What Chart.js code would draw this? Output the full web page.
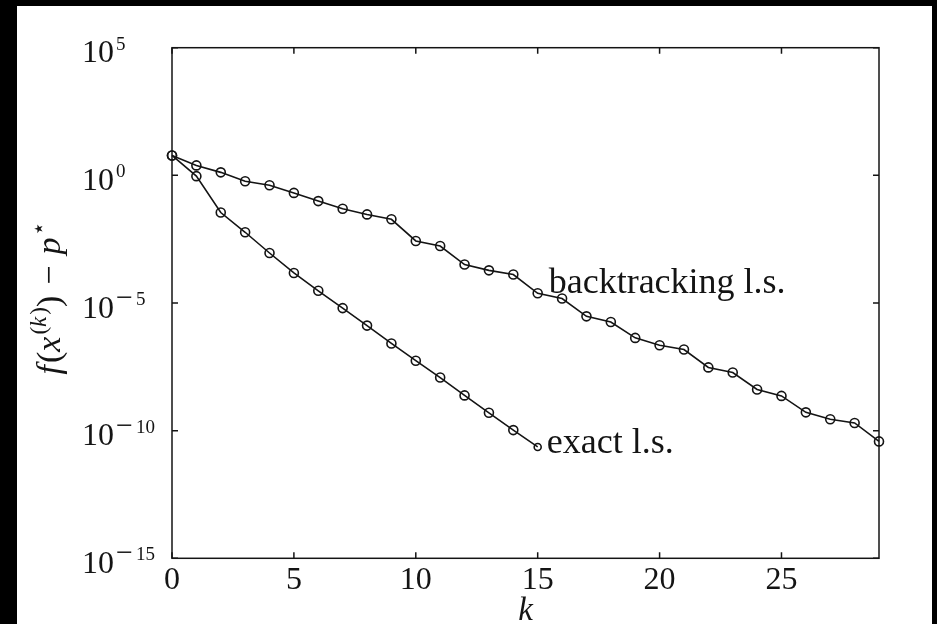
<!DOCTYPE html>
<html>
<head>
<meta charset="utf-8">
<script src="https://cdn.jsdelivr.net/npm/chart.js@4.4.0/dist/chart.umd.min.js"></script>
<style>
    html, body { margin: 0; padding: 0; background: #000; }
    #page { position: absolute; left: 17px; top: 6px; width: 915px; height: 618px; background: #fff; }
    canvas { display: block; }
</style>
</head>
<body>
<div id="page"><canvas id="plot" width="915" height="618"></canvas></div>
<script>
// iteration numbers
const kBacktracking = [0, 1, 2, 3, 4, 5, 6, 7, 8, 9, 10, 11, 12, 13, 14, 15, 16, 17, 18, 19, 20, 21, 22, 23, 24, 25, 26, 27, 28, 29];
const kExact = [0, 1, 2, 3, 4, 5, 6, 7, 8, 9, 10, 11, 12, 13, 14, 15];

// f(x^(k)) - p*
const backtrackingGap = [6.0, 2.45, 1.31, 0.585, 0.408, 0.205, 0.098, 0.049, 0.0295, 0.019,
    2.7e-3, 1.7e-3, 3.2e-4, 1.9e-4, 1.3e-4, 2.4e-5, 1.5e-5, 3.0e-6, 1.8e-6, 4.3e-7,
    2.2e-7, 1.5e-7, 3.0e-8, 1.9e-8, 4.1e-9, 2.3e-9, 5.2e-10, 2.8e-10, 2.0e-10, 3.8e-11];
const exactGap = [6.0, 0.93, 3.5e-2, 5.9e-3, 9.1e-4, 1.5e-4, 3.0e-5, 6.3e-6, 1.3e-6, 2.6e-7,
    5.5e-8, 1.2e-8, 2.4e-9, 5.0e-10, 1.05e-10, 2.3e-11];

// ticks
const xTicks = [0, 5, 10, 15, 20, 25];
const yTicks = [1e5, 1e0, 1e-5, 1e-10, 1e-15];
const yTickExponents = ['5', '0', '\u22125', '\u221210', '\u221215'];

const SERIF = '"Liberation Serif", "Times New Roman", serif';
const INK = '#141414';
const TICK = 6;

const toPoints = (ks, vals) => ks.map((k, i) => ({ x: k, y: vals[i] }));

const seriesStyle = {
    borderColor: INK,
    borderWidth: 1.6,
    pointStyle: 'circle',
    pointRadius: 4.5,
    pointBorderWidth: 1.6,
    pointBorderColor: INK,
    pointBackgroundColor: 'rgba(0,0,0,0)',
    tension: 0,
    clip: false
};

// frame, inward ticks and all the text
const axesDraw = {
    id: 'axesDraw',
    beforeDatasetsDraw(chart) {
        const { ctx, chartArea: a, scales: { x, y } } = chart;
        ctx.save();
        ctx.strokeStyle = INK;
        ctx.lineWidth = 1.5;
        ctx.strokeRect(a.left, a.top, a.width, a.height);
        ctx.beginPath();
        xTicks.forEach(v => {
            const px = x.getPixelForValue(v);
            ctx.moveTo(px, a.bottom); ctx.lineTo(px, a.bottom - TICK);
            ctx.moveTo(px, a.top); ctx.lineTo(px, a.top + TICK);
        });
        yTicks.forEach(v => {
            const py = y.getPixelForValue(v);
            ctx.moveTo(a.left, py); ctx.lineTo(a.left + TICK, py);
            ctx.moveTo(a.right, py); ctx.lineTo(a.right - TICK, py);
        });
        ctx.stroke();
        ctx.restore();
    },
    afterDraw(chart) {
        const { ctx, chartArea: a, scales: { x, y } } = chart;
        ctx.save();
        ctx.fillStyle = INK;
        ctx.textBaseline = 'alphabetic';

        // x tick labels
        ctx.font = `32px ${SERIF}`;
        ctx.textAlign = 'center';
        xTicks.forEach(v => ctx.fillText(String(v), x.getPixelForValue(v), a.bottom + 31));

        // x axis title
        ctx.font = `italic 33px ${SERIF}`;
        ctx.fillText('k', (a.left + a.right) / 2, a.bottom + 62);

        // y tick labels 10^e
        ctx.textAlign = 'left';
        yTicks.forEach((v, i) => {
            const py = y.getPixelForValue(v);
            const left = 65;
            ctx.font = `32px ${SERIF}`;
            ctx.fillText('10', left, py + 14.5);
            let sx = left + ctx.measureText('10').width + 2;
            let exp = yTickExponents[i];
            if (exp.startsWith('\u2212')) {
                ctx.font = `30px ${SERIF}`;
                ctx.fillText('\u2212', sx, py + 4);
                sx += ctx.measureText('\u2212').width + 3;
                exp = exp.slice(1);
            }
            ctx.font = `19px ${SERIF}`;
            ctx.fillText(exp, sx, py + 2);
        });

        // y axis title f(x^(k)) - p*
        const pieces = [
            { t: 'f', it: true }, { t: '(' }, { t: 'x', it: true },
            { t: '(', sup: true }, { t: 'k', sup: true, it: true }, { t: ')', sup: true },
            { t: ')' }, { t: '\u2212', gap: 11 }, { t: 'p', it: true }, { t: '\u22c6', sup: true }
        ];
        const fontFor = p => `${p.it ? 'italic ' : ''}${p.sup ? 23 : 34}px ${SERIF}`;
        let total = 0;
        pieces.forEach(p => {
            ctx.font = fontFor(p);
            p.w = ctx.measureText(p.t).width;
            total += p.w + 2 * (p.gap || 0) + (p.it ? 2 : 0);
        });
        ctx.translate(43, 292);
        ctx.rotate(-Math.PI / 2);
        let cx = -total / 2;
        pieces.forEach(p => {
            ctx.font = fontFor(p);
            cx += p.gap || 0;
            ctx.fillText(p.t, cx, p.sup ? -14 : 0);
            cx += p.w + (p.gap || 0) + (p.it ? 2 : 0);
        });
        ctx.setTransform(1, 0, 0, 1, 0, 0);

        // curve labels
        ctx.font = `36px ${SERIF}`;
        const bx = x.getPixelForValue(15), by = y.getPixelForValue(backtrackingGap[15]);
        ctx.fillText('backtracking l.s.', bx + 11, by);
        const ex = x.getPixelForValue(15), ey = y.getPixelForValue(exactGap[15]);
        ctx.fillText('exact l.s.', ex + 9, ey + 6);
        ctx.restore();
    }
};

new Chart(document.getElementById('plot'), {
    type: 'line',
    data: {
        datasets: [
            Object.assign({ label: 'backtracking l.s.', data: toPoints(kBacktracking, backtrackingGap) }, seriesStyle),
            Object.assign({ label: 'exact l.s.', data: toPoints(kExact, exactGap) }, seriesStyle,
                { pointRadius: kExact.map(k => (k === 15 ? 3.5 : 4.5)) })
        ]
    },
    options: {
        responsive: false,
        animation: false,
        layout: { padding: { left: 155, right: 53, top: 41.7, bottom: 65.7 } },
        plugins: { legend: { display: false }, tooltip: { enabled: false } },
        scales: {
            x: { type: 'linear', min: 0, max: 29, display: false },
            y: { type: 'logarithmic', min: 1e-15, max: 1e5, display: false }
        }
    },
    plugins: [axesDraw]
});
</script>
</body>
</html>
